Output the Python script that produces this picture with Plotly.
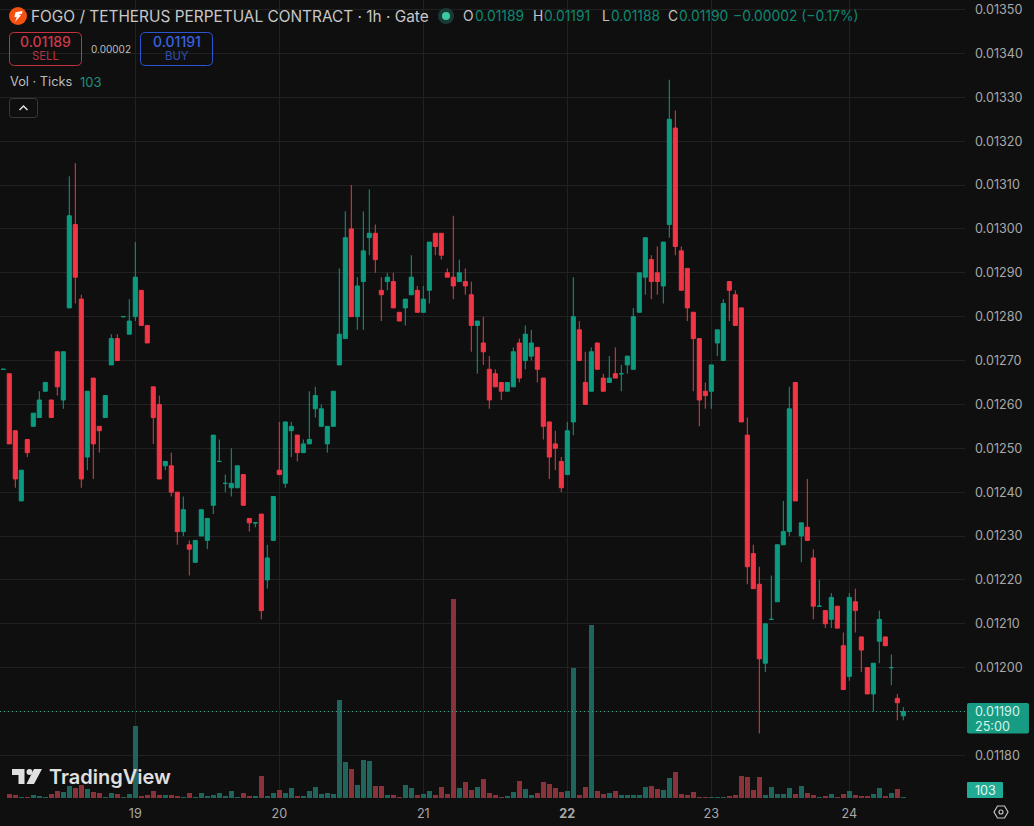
import plotly.graph_objects as go

# Hourly FOGO/USDT perpetual candles, prices in units of the 0.00001 tick
opens_t = [
    1268, 1267, 1254, 1238, 1252, 1255, 1257, 1263, 1261, 1272,
    1261, 1282, 1301, 1284, 1248, 1266, 1255, 1257, 1269, 1275,
    1280, 1276, 1280, 1286, 1278, 1264, 1260, 1246, 1246, 1240,
    1231, 1228, 1224, 1230, 1229, 1237, 1247, 1242, 1241, 1241,
    1244, 1234, 1233, 1235, 1220, 1229, 1245, 1242, 1254, 1253,
    1249, 1251, 1259, 1255, 1251, 1255, 1269, 1275, 1300, 1280,
    1288, 1298, 1299, 1286, 1288, 1288, 1281, 1282, 1285, 1286,
    1281, 1286, 1299, 1299, 1290, 1289, 1288, 1288, 1285, 1278,
    1274, 1268, 1267, 1265, 1263, 1264, 1274, 1270, 1271, 1273,
    1266, 1256, 1251, 1247, 1244, 1256, 1277, 1265, 1263, 1274,
    1266, 1265, 1267, 1267, 1269, 1268, 1281, 1289, 1293, 1290,
    1287, 1301, 1323, 1295, 1291, 1281, 1275, 1263, 1263, 1274,
    1270, 1288, 1285, 1282, 1253, 1226, 1219, 1201, 1211, 1215,
    1228, 1231, 1265, 1230, 1232, 1225, 1214, 1213, 1211, 1214,
    1205, 1198, 1215, 1207, 1200, 1194, 1206, 1207, 1200, 1193,
    1189,
]
highs_t = [
    1268, 1267, 1254, 1245, 1252, 1258, 1263, 1265, 1261, 1272,
    1272, 1312, 1315, 1285, 1263, 1266, 1255, 1262, 1276, 1276,
    1280, 1284, 1297, 1286, 1278, 1264, 1262, 1247, 1249, 1240,
    1239, 1229, 1229, 1236, 1234, 1253, 1252, 1244, 1250, 1246,
    1244, 1234, 1233, 1235, 1228, 1239, 1256, 1256, 1256, 1253,
    1252, 1263, 1264, 1260, 1255, 1263, 1291, 1304, 1310, 1289,
    1304, 1309, 1301, 1289, 1290, 1290, 1281, 1284, 1294, 1287,
    1287, 1297, 1299, 1299, 1291, 1303, 1293, 1291, 1288, 1279,
    1280, 1271, 1268, 1265, 1265, 1273, 1275, 1278, 1277, 1273,
    1266, 1256, 1254, 1248, 1256, 1289, 1279, 1272, 1273, 1274,
    1267, 1271, 1273, 1269, 1271, 1282, 1290, 1298, 1294, 1296,
    1297, 1334, 1327, 1296, 1291, 1281, 1275, 1265, 1269, 1277,
    1284, 1288, 1286, 1282, 1257, 1228, 1223, 1210, 1221, 1228,
    1238, 1264, 1265, 1233, 1243, 1227, 1220, 1213, 1217, 1214,
    1208, 1217, 1218, 1207, 1200, 1201, 1213, 1207, 1203, 1194,
    1191,
]
lows_t = [
    1268, 1251, 1241, 1238, 1248, 1255, 1257, 1263, 1257, 1262,
    1259, 1282, 1283, 1241, 1245, 1243, 1249, 1257, 1269, 1270,
    1280, 1276, 1279, 1278, 1274, 1251, 1243, 1245, 1239, 1228,
    1230, 1221, 1224, 1230, 1227, 1235, 1247, 1240, 1239, 1241,
    1237, 1231, 1232, 1211, 1218, 1229, 1244, 1241, 1248, 1247,
    1249, 1251, 1257, 1255, 1249, 1255, 1269, 1275, 1280, 1277,
    1277, 1294, 1290, 1279, 1286, 1282, 1279, 1278, 1285, 1281,
    1281, 1283, 1294, 1293, 1289, 1284, 1288, 1285, 1272, 1267,
    1269, 1259, 1264, 1261, 1263, 1264, 1265, 1268, 1270, 1265,
    1252, 1243, 1245, 1240, 1244, 1253, 1270, 1260, 1263, 1268,
    1263, 1265, 1266, 1263, 1267, 1268, 1281, 1285, 1284, 1285,
    1283, 1298, 1294, 1286, 1279, 1263, 1255, 1259, 1259, 1271,
    1270, 1279, 1278, 1256, 1219, 1218, 1185, 1199, 1211, 1215,
    1228, 1230, 1238, 1224, 1229, 1211, 1214, 1209, 1209, 1209,
    1195, 1197, 1208, 1199, 1194, 1190, 1201, 1205, 1196, 1188,
    1188,
]
closes_t = [
    1268, 1251, 1243, 1245, 1249, 1258, 1261, 1265, 1257, 1264,
    1272, 1303, 1289, 1243, 1263, 1251, 1254, 1262, 1275, 1270,
    1280, 1279, 1289, 1278, 1274, 1257, 1243, 1247, 1240, 1231,
    1236, 1227, 1229, 1236, 1234, 1253, 1247, 1242, 1242, 1246,
    1237, 1233, 1233, 1213, 1225, 1239, 1244, 1256, 1255, 1249,
    1251, 1252, 1262, 1259, 1255, 1263, 1276, 1298, 1280, 1287,
    1295, 1299, 1293, 1285, 1289, 1282, 1279, 1284, 1289, 1281,
    1284, 1297, 1296, 1294, 1289, 1287, 1290, 1287, 1278, 1279,
    1272, 1261, 1264, 1263, 1265, 1272, 1266, 1276, 1274, 1268,
    1255, 1248, 1250, 1241, 1254, 1280, 1270, 1260, 1272, 1268,
    1263, 1266, 1266, 1267, 1271, 1280, 1290, 1298, 1288, 1288,
    1297, 1325, 1296, 1286, 1282, 1275, 1261, 1262, 1269, 1277,
    1283, 1286, 1278, 1256, 1223, 1218, 1202, 1210, 1211, 1228,
    1231, 1259, 1238, 1233, 1229, 1214, 1214, 1210, 1216, 1209,
    1195, 1216, 1213, 1204, 1194, 1201, 1211, 1205, 1200, 1192,
    1190,
]
volumes = [
    30, 400, 300, 130, 130, 270, 170, 70, 400, 670,
    600, 1200, 1000, 1270, 900, 600, 470, 70, 500, 400,
    70, 400, 7200, 200, 300, 670, 300, 300, 300, 200,
    100, 500, 70, 500, 200, 300, 500, 200, 700, 100,
    500, 200, 200, 2200, 200, 500, 800, 500, 1000, 200,
    200, 700, 1100, 400, 500, 400, 9800, 3600, 2900, 1300,
    3800, 3700, 1200, 1200, 300, 300, 100, 1300, 1000, 300,
    400, 700, 300, 1100, 400, 19900, 1000, 1600, 800, 1100,
    1900, 500, 300, 100, 200, 600, 1700, 900, 300, 500,
    1600, 1400, 1000, 600, 700, 13000, 300, 1100, 17300, 700,
    400, 500, 700, 300, 300, 300, 300, 1100, 1200, 900,
    800, 2000, 2600, 400, 300, 600, 100, 100, 70, 70,
    70, 200, 300, 2200, 2100, 800, 2100, 300, 1100, 400,
    400, 1000, 400, 1200, 500, 300, 70, 200, 400, 100,
    400, 700, 300, 200, 200, 400, 1000, 200, 500, 900,
    103,
]
day_positions = [22, 46, 70, 94, 118, 141]
day_labels = ["19", "20", "21", "<b>22</b>", "23", "24"]
price_ticks = [0.0118 + 0.0001 * k for k in range(18)]
last_price = 0.0119

TICK = 0.00001
BG = "#0f0f0f"
GRID = "#212121"
AXIS_TEXT = "#a9a9a9"
UP = "#0d9b80"
DOWN = "#f23645"
UP_VOL = "#1f655b"
DOWN_VOL = "#8a3239"
FONT = "Inter"

# Plot area in page pixels; the header and badges sit on it in the same units
PLOT_W, PLOT_H = 965, 798


def px(x):
    return x / PLOT_W


def py(y):
    return 1 - y / PLOT_H


def to_price(values):
    return [round(v * TICK, 5) for v in values]


def path(points, close=True):
    parts = [f"{'M' if k == 0 else 'L'}{px(x):.5f},{py(y):.5f}" for k, (x, y) in enumerate(points)]
    return " ".join(parts) + (" Z" if close else "")


def round_rect(x0, y0, x1, y1, r):
    c = [
        f"M{px(x0 + r):.5f},{py(y0):.5f}",
        f"L{px(x1 - r):.5f},{py(y0):.5f}",
        f"Q{px(x1):.5f},{py(y0):.5f} {px(x1):.5f},{py(y0 + r):.5f}",
        f"L{px(x1):.5f},{py(y1 - r):.5f}",
        f"Q{px(x1):.5f},{py(y1):.5f} {px(x1 - r):.5f},{py(y1):.5f}",
        f"L{px(x0 + r):.5f},{py(y1):.5f}",
        f"Q{px(x0):.5f},{py(y1):.5f} {px(x0):.5f},{py(y1 - r):.5f}",
        f"L{px(x0):.5f},{py(y0 + r):.5f}",
        f"Q{px(x0):.5f},{py(y0):.5f} {px(x0 + r):.5f},{py(y0):.5f} Z",
    ]
    return " ".join(c)


def shape_path(d, line=None, fill=None, width=1):
    return dict(
        type="path", path=d, xref="paper", yref="paper", layer="above",
        line=dict(color=line or "rgba(0,0,0,0)", width=width if line else 0),
        fillcolor=fill or "rgba(0,0,0,0)",
    )


def circle(cx, cy, r, fill=None, line=None, width=1):
    return dict(
        type="circle", xref="paper", yref="paper", layer="above",
        x0=px(cx - r), x1=px(cx + r), y0=py(cy + r), y1=py(cy - r),
        line=dict(color=line or "rgba(0,0,0,0)", width=width if line else 0),
        fillcolor=fill or "rgba(0,0,0,0)",
    )


def label(x, y, text, size=12, color="#c4c4c4", anchor="left", weight=None):
    font = dict(family=FONT, size=size, color=color)
    if weight:
        font["weight"] = weight
    return dict(
        x=px(x), y=py(y), xref="paper", yref="paper", text=text, showarrow=False,
        xanchor=anchor, yanchor="middle", align=anchor, borderpad=0, borderwidth=0, font=font,
    )


index = list(range(len(opens_t)))
opens = to_price(opens_t)
highs = to_price(highs_t)
lows = to_price(lows_t)
# A flat candle counts as rising, so its close is nudged just above the open;
# otherwise Plotly would colour it from the previous close.
closes = [c + 1e-9 if c == o else c for o, c in zip(opens, to_price(closes_t))]

fig = go.Figure()
fig.add_trace(go.Bar(
    x=index, y=volumes, yaxis="y", width=0.83, marker_line_width=0,
    marker_color=[UP_VOL if c >= o else DOWN_VOL for o, c in zip(opens_t, closes_t)],
    hoverinfo="skip",
))
fig.add_trace(go.Candlestick(
    x=index, open=opens, high=highs, low=lows, close=closes, yaxis="y2", whiskerwidth=0,
    increasing=dict(line=dict(color=UP, width=1), fillcolor=UP),
    decreasing=dict(line=dict(color=DOWN, width=1), fillcolor=DOWN),
    hoverinfo="skip",
))

shapes = [
    # last price level, running under the price badge
    dict(type="line", xref="paper", yref="y2", x0=0, x1=1, y0=last_price, y1=last_price,
         line=dict(color="#3fa08c", width=1, dash="1px,3px"), layer="above"),
    # symbol logo
    circle(18, 16, 9, fill="#f4500f"),
    shape_path(path([(15.5, 12.2), (22.6, 11), (21.9, 13.7), (18.8, 14.3), (21, 15.2), (15, 22),
                     (16.8, 17.2), (14.4, 17)]), fill="#ffffff"),
    # market status dot
    circle(446, 16, 8, fill="#1b3a35"),
    circle(446, 16, 4, fill="#3cc8a3"),
    # sell and buy buttons
    shape_path(round_rect(9.5, 32.5, 81.5, 65.5, 5), line="#c9323f"),
    shape_path(round_rect(140.5, 32.5, 212.5, 65.5, 5), line="#2f55d4"),
    # collapse button with its chevron
    shape_path(round_rect(9.5, 98.5, 37.5, 117.5, 3), line="#3a3a3a"),
    shape_path(path([(19.5, 110), (23.5, 106), (27.5, 110)], close=False), line="#e0e0e0", width=1.5),
    # price and volume badges
    shape_path(round_rect(967, 703, 1029, 733.5, 2), fill="#179b83"),
    shape_path(round_rect(967, 782, 1003, 798, 1), fill="#22ab94"),
    # settings hexagon
    shape_path(path([(994, 812), (997.5, 806), (1004.5, 806), (1008, 812), (1004.5, 818), (997.5, 818)]),
               line="#c4c4c4", width=1.2),
    circle(1001, 812, 2, line="#c4c4c4", width=1.2),
    # TradingView mark
    shape_path(path([(12, 769), (24.5, 769), (24.5, 784), (18.5, 784), (18.5, 775), (12, 775)]), fill="#e0e0e0"),
    circle(29.5, 772, 3, fill="#e0e0e0"),
    shape_path(path([(34, 769), (42, 769), (34, 784), (26.5, 784)]), fill="#e0e0e0"),
]

annotations = [
    label(31, 16, "FOGO / TETHERUS PERPETUAL CONTRACT · 1h · Gate", size=15.4, color="#c8c8c8"),
    label(463, 16, "O", size=13.8),
    label(475, 16, "0.01189", size=13.8, color="#0e8a72"),
    label(533, 16, "H", size=13.8),
    label(544, 16, "0.01191", size=13.8, color="#0e8a72"),
    label(602, 16, "L", size=13.8),
    label(610.5, 16, "0.01188", size=13.8, color="#0e8a72"),
    label(668, 16, "C", size=13.8),
    label(679, 16, "0.01190", size=13.8, color="#0e8a72"),
    label(733, 16, "−0.00002 (−0.17%)", size=13.8, color="#0e8a72"),
    label(45.5, 42, "0.01189", size=14, color="#d03a49", anchor="center", weight=500),
    label(45.5, 56.5, "SELL", size=11.3, color="#b83340", anchor="center"),
    label(110.5, 49, "0.00002", size=10, color="#bdbdbd", anchor="center"),
    label(176.5, 42, "0.01191", size=14, color="#3a62e0", anchor="center", weight=500),
    label(176.5, 56.5, "BUY", size=11.3, color="#2f4fb8", anchor="center"),
    label(9.5, 82, "Vol · Ticks", size=12.8, color="#bdbdbd"),
    label(80, 82, "103", size=13, color="#1f8f7a"),
    label(975, 711, "0.01190", size=12.6, color="#d9f3ec"),
    label(975, 726, "25:00", size=12.6, color="#d9f3ec"),
    label(975, 790, "103", size=12.6, color="#e6f7f3"),
    label(49, 777, "TradingView", size=20, color="#e0e0e0", weight=600),
]

fig.update_layout(
    width=1034, height=826,
    margin=dict(l=0, r=1034 - PLOT_W, t=0, b=826 - PLOT_H, pad=0),
    paper_bgcolor=BG, plot_bgcolor=BG,
    showlegend=False, hovermode=False, bargap=0, boxgap=0.15, boxgroupgap=0.2,
    font=dict(family=FONT, color=AXIS_TEXT, size=12),
    shapes=shapes, annotations=annotations,
    xaxis=dict(
        range=[-0.55, 160.28], tickmode="array", tickvals=day_positions, ticktext=day_labels,
        showgrid=True, gridcolor=GRID, gridwidth=1, zeroline=False, showline=False, ticks="",
        ticklabelstandoff=6, rangeslider=dict(visible=False),
        tickfont=dict(family=FONT, size=12.6, color=AXIS_TEXT), fixedrange=True,
    ),
    yaxis=dict(range=[0, 79800], visible=False, fixedrange=True),
    yaxis2=dict(
        range=[0.0117028, 0.0135218], overlaying="y", side="right", tickmode="array",
        tickvals=price_ticks, tickformat=".5f", showgrid=True, gridcolor=GRID, gridwidth=1,
        zeroline=False, showline=False, ticks="", ticklabelstandoff=9,
        tickfont=dict(family=FONT, size=12.6, color=AXIS_TEXT), fixedrange=True,
    ),
)

fig.write_html("out.html", config=dict(displayModeBar=False, staticPlot=True))
